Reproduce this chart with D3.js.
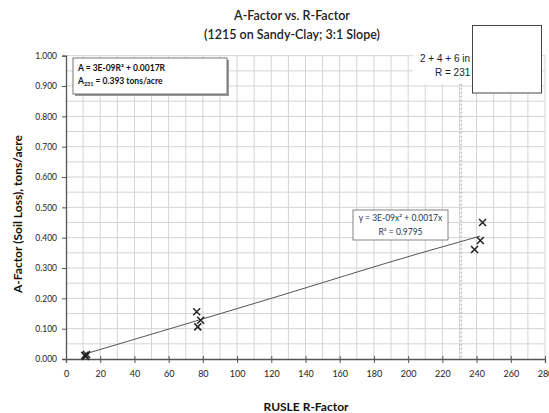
<!DOCTYPE html>
<html><head><meta charset="utf-8">
<script src="https://cdn.jsdelivr.net/npm/d3@7/dist/d3.min.js"></script>
<style>body{margin:0;background:#fff}svg{display:block}</style>
</head><body>
<script>
// ---- data ----
const rFactor = [11, 11.5, 12, 76.4, 78.7, 77, 243.5, 242.2, 238.8];
const aFactor = [0.012, 0.008, 0.015, 0.156, 0.128, 0.106, 0.450, 0.391, 0.361];
const trendR = [12, 55, 120, 207, 242];
const trendA = [0.018, 0.090, 0.200, 0.349, 0.405];
const xTicks = d3.range(0, 281, 20);
const yTicks = d3.range(0, 1.0001, 0.1);
const xGrid = d3.range(10, 281, 10);
const yGrid = d3.range(0.05, 1.0001, 0.05);
const markerR = 231;
const title1 = "A-Factor vs. R-Factor";
const title2 = "(1215 on Sandy-Clay; 3:1 Slope)";
const xLabel = "RUSLE R-Factor";
const yLabel = "A-Factor (Soil Loss), tons/acre";

const W = 549, H = 413;
const svg = d3.select("body").append("svg").attr("width", W).attr("height", H);
const x = d3.scaleLinear().domain([0, 280]).range([66, 545]);
const y = d3.scaleLinear().domain([0, 1]).range([359, 55.7]);
const font = "Lato, 'Open Sans', sans-serif";

// grid
svg.append("g").selectAll("line").data(xGrid).join("line")
  .attr("x1", d => x(d)).attr("x2", d => x(d)).attr("y1", y(0)).attr("y2", y(1))
  .attr("stroke", "#d4d4d4").attr("stroke-width", 1);
svg.append("g").selectAll("line").data(yGrid).join("line")
  .attr("x1", x(0)).attr("x2", x(280)).attr("y1", d => y(d)).attr("y2", d => y(d))
  .attr("stroke", "#d4d4d4").attr("stroke-width", 1);

// axes
const yAxis = d3.axisLeft(y).tickValues(yTicks).tickFormat(d3.format(".3f")).tickSize(4).tickPadding(5);
const gy = svg.append("g").attr("transform", `translate(${x(0)},0)`).call(yAxis);
gy.select(".domain").attr("stroke", "#555").attr("stroke-width", 1.3);
gy.selectAll(".tick line").attr("stroke", "#555");
gy.selectAll("text").attr("font-family", font).attr("font-size", 8.5).attr("fill", "#222");

const xAxis = d3.axisBottom(x).tickValues(xTicks).tickSize(4).tickPadding(8);
const gx = svg.append("g").attr("transform", `translate(0,${y(0)})`).call(xAxis);
gx.select(".domain").attr("stroke", "#555").attr("stroke-width", 1.3);
gx.selectAll(".tick line").attr("stroke", "#555").attr("y1", -3);
gx.selectAll("text").attr("font-family", font).attr("font-size", 9).attr("fill", "#222");

// dashed line at R = 231
svg.append("line").attr("x1", x(markerR)).attr("x2", x(markerR)).attr("y1", y(1)).attr("y2", y(0))
  .attr("stroke", "#999").attr("stroke-width", 1).attr("stroke-dasharray", "2,2");

// trendline
const trend = trendR.map((r, i) => [r, trendA[i]]);
svg.append("path").datum(trend)
  .attr("d", d3.line().x(d => x(d[0])).y(d => y(d[1])).curve(d3.curveMonotoneX))
  .attr("fill", "none").attr("stroke", "#555").attr("stroke-width", 1);

// markers
const pts = rFactor.map((r, i) => [r, aFactor[i]]);
const s = 3.5;
svg.append("g").selectAll("path").data(pts).join("path")
  .attr("d", d => `M${x(d[0]) - s},${y(d[1]) - s}L${x(d[0]) + s},${y(d[1]) + s}M${x(d[0]) - s},${y(d[1]) + s}L${x(d[0]) + s},${y(d[1]) - s}`)
  .attr("stroke", "#222").attr("stroke-width", 1.5).attr("fill", "none");

// equation box top-left
svg.append("rect").attr("x", 75).attr("y", 60).attr("width", 154).attr("height", 36).attr("fill", "#999");
svg.append("rect").attr("x", 73).attr("y", 58).attr("width", 154).attr("height", 36)
  .attr("fill", "#fff").attr("stroke", "#555").attr("stroke-width", 0.8);
svg.append("text").attr("x", 78).attr("y", 71).attr("font-family", font).attr("font-size", 8.5)
  .attr("font-weight", "bold").attr("fill", "#111").text("A = 3E-09R² + 0.0017R");
const t2 = svg.append("text").attr("x", 78).attr("y", 84).attr("font-family", font).attr("font-size", 8.5)
  .attr("font-weight", "bold").attr("fill", "#111");
t2.append("tspan").text("A");
t2.append("tspan").attr("font-size", 5.5).attr("dy", 2).text("231");
t2.append("tspan").attr("dy", -2).text(" = 0.393 tons/acre");

// trendline label box
svg.append("rect").attr("x", 353).attr("y", 210).attr("width", 95).attr("height", 30)
  .attr("fill", "#fff").attr("stroke", "#666").attr("stroke-width", 0.8);
svg.append("text").attr("x", 400.5).attr("y", 220.5).attr("text-anchor", "middle").attr("font-family", font)
  .attr("font-size", 8.5).attr("fill", "#1f3550").text("y = 3E-09x² + 0.0017x");
svg.append("text").attr("x", 400.5).attr("y", 235).attr("text-anchor", "middle").attr("font-family", font)
  .attr("font-size", 8.5).attr("fill", "#1f3550").text("R² = 0.9795");

// top-right text label
svg.append("rect").attr("x", 413).attr("y", 52).attr("width", 62).attr("height", 32).attr("fill", "#fff");
svg.append("text").attr("x", 420).attr("y", 62).attr("font-family", "'Liberation Sans', Arial, sans-serif")
  .attr("font-size", 10).attr("fill", "#222").text("2 + 4 + 6 in");
svg.append("text").attr("x", 435).attr("y", 76).attr("font-family", "'Liberation Sans', Arial, sans-serif")
  .attr("font-size", 10).attr("fill", "#222").text("R = 231");

// blank box top-right
svg.append("rect").attr("x", 472.5).attr("y", 25.5).attr("width", 69).attr("height", 67.5)
  .attr("fill", "#fff").attr("stroke", "#444").attr("stroke-width", 1);

// titles
svg.append("text").attr("x", 292).attr("y", 20).attr("text-anchor", "middle").attr("font-family", font)
  .attr("font-size", 12.5).attr("font-weight", "600").attr("fill", "#222").text(title1);
svg.append("text").attr("x", 292).attr("y", 39).attr("text-anchor", "middle").attr("font-family", font)
  .attr("font-size", 12.5).attr("font-weight", "600").attr("fill", "#222").text(title2);
svg.append("text").attr("x", 306).attr("y", 411).attr("text-anchor", "middle").attr("font-family", font)
  .attr("font-size", 12).attr("font-weight", "bold").attr("fill", "#111").text(xLabel);
svg.append("text").attr("transform", "translate(22,214) rotate(-90)").attr("text-anchor", "middle")
  .attr("font-family", font).attr("font-size", 12).attr("font-weight", "bold").attr("fill", "#111").text(yLabel);
</script>
</body></html>
